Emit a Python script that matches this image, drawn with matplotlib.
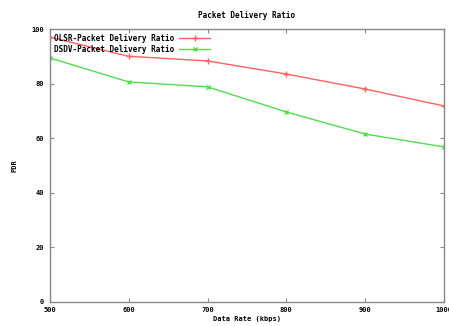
import matplotlib.pyplot as plt

rate = [500, 600, 700, 800, 900, 1000]
olsr = [97, 90, 88.3, 83.5, 78, 71.8]
dsdv = [89.4, 80.6, 78.8, 69.6, 61.5, 56.8]

plt.rcParams['font.family'] = 'DejaVu Sans Mono'
plt.rcParams['font.weight'] = 'bold'

fig = plt.figure(figsize=(4.49, 3.26), dpi=100)
ax = fig.add_axes([0.111, 0.074, 0.878, 0.837])

ax.plot(rate, olsr, color='#ff6060', marker='+', markersize=4, linewidth=1,
        label='OLSR-Packet Delivery Ratio')
ax.plot(rate, dsdv, color='#50dd50', marker='x', markersize=3, linewidth=1,
        label='DSDV-Packet Delivery Ratio')

ax.set_xlim(500, 1000)
ax.set_ylim(0, 100)
ax.set_xticks(rate)
ax.set_yticks([0, 20, 40, 60, 80, 100])
ax.tick_params(direction='in', length=3, labelsize=5, color='#888888',
               top=True, right=True, pad=4)
for s in ax.spines.values():
    s.set_color('#888888')
    s.set_linewidth(1)

ax.set_title('Packet Delivery Ratio', fontsize=5.5, fontweight='bold', pad=8)
ax.set_xlabel('Data Rate (kbps)', fontsize=5, fontweight='bold', labelpad=2)
ax.set_ylabel('PDR', fontsize=5, fontweight='bold', labelpad=10)

ax.legend(loc='upper left', frameon=False, markerfirst=False, fontsize=5.5,
          handlelength=4, borderaxespad=0.2, labelspacing=0.3, handletextpad=0.6)

fig.savefig('out.png', dpi=100)
